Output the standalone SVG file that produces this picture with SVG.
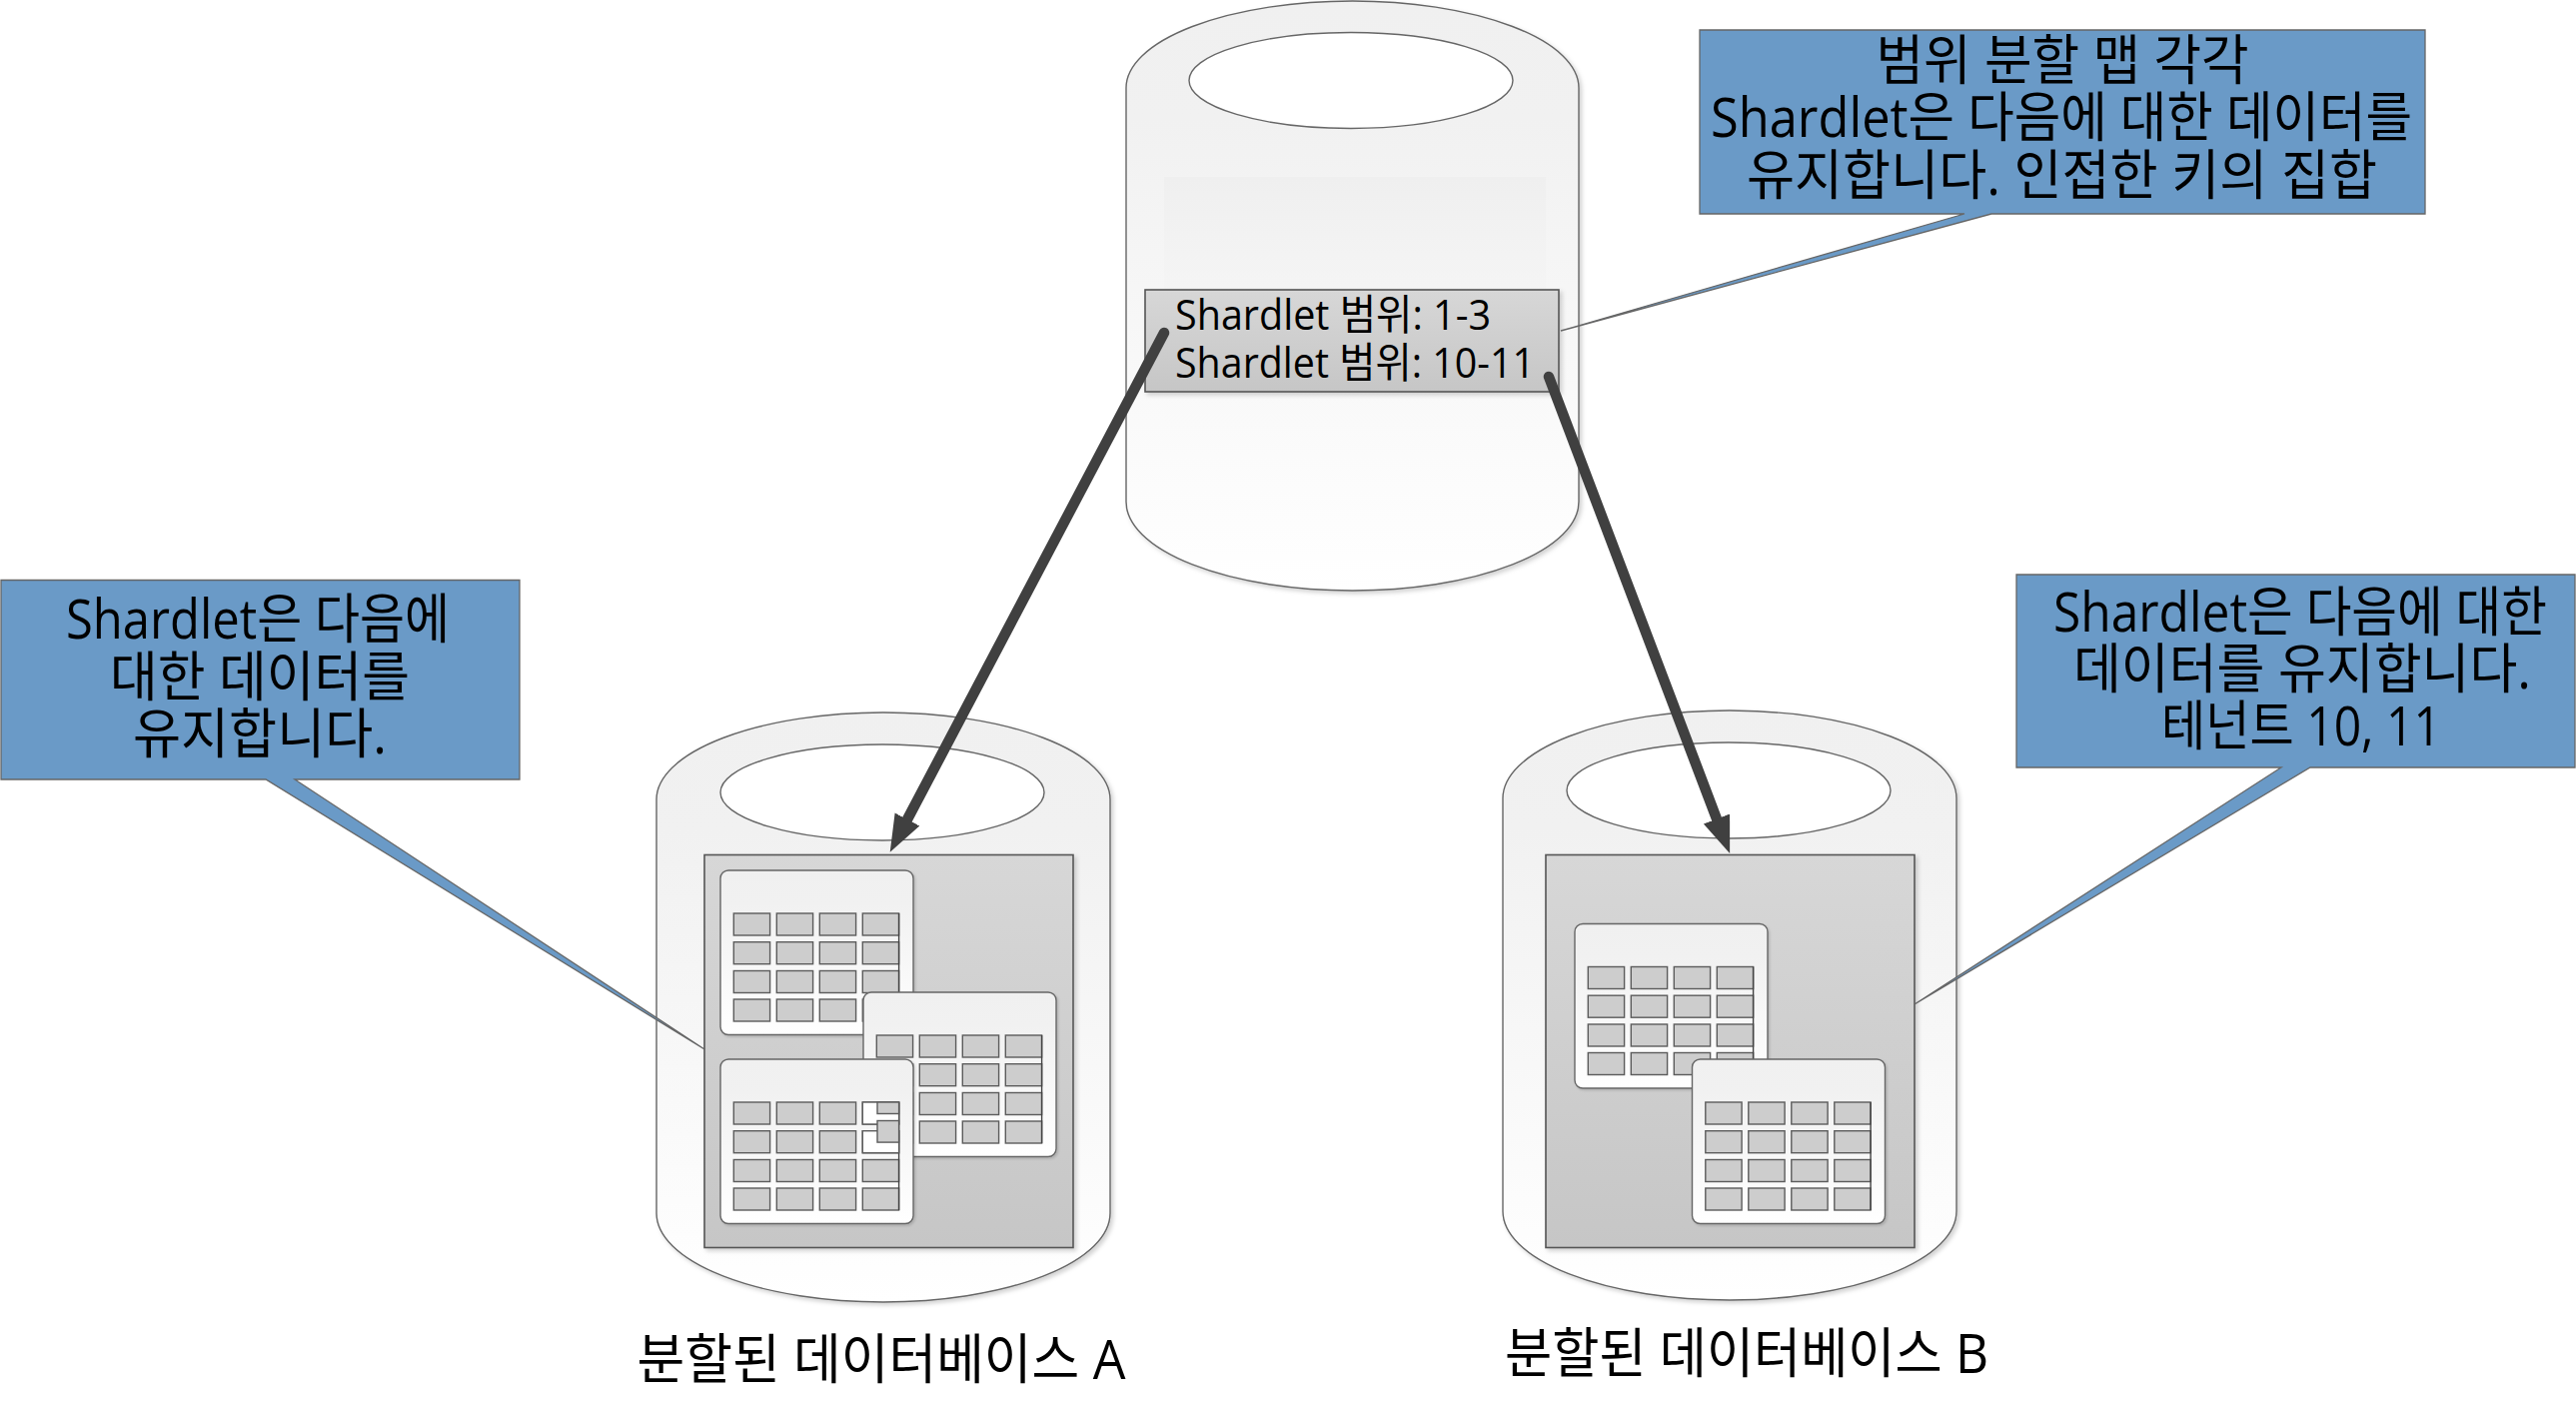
<svg xmlns="http://www.w3.org/2000/svg" xmlns:xlink="http://www.w3.org/1999/xlink" width="2578" height="1412" viewBox="0 0 2578 1412">
<style>
.cyl{fill:url(#gCyl);stroke:#666;stroke-width:1.4;filter:url(#sh)}
.hole{fill:#fff;stroke:#666;stroke-width:1.4}
.panel{fill:url(#gPanel);stroke:#555;stroke-width:1.6;filter:url(#sh)}
.tbl{fill:url(#gCyl);stroke:#666;stroke-width:1.4;filter:url(#sh2)}
.cell{fill:#cdcdcd;stroke:#5c5c5c;stroke-width:1.4}
.call{fill:#6a9ac7;stroke:#666;stroke-width:1.3}
.t{font-family:"Open Sans","Noto Sans CJK KR",sans-serif;fill:#000;font-size:54px;text-anchor:middle}
.r{font-size:42px;text-anchor:start}
.arrow{fill:none;stroke:#404040;stroke-width:10.5;stroke-linecap:round;marker-end:url(#head)}
</style>
<defs>
<linearGradient id="gCyl" x1="0" y1="0" x2="0" y2="1"><stop offset="0" stop-color="#f0f0f0"/><stop offset=".2" stop-color="#f1f1f1"/><stop offset="1" stop-color="#fff"/></linearGradient>
<linearGradient id="gPanel" x1="0" y1="0" x2="0" y2="1"><stop offset="0" stop-color="#d7d7d7"/><stop offset="1" stop-color="#c6c6c6"/></linearGradient>
<linearGradient id="gFaint" x1="0" y1="0" x2="0" y2="1"><stop offset="0" stop-color="#efefef"/><stop offset="1" stop-color="#fdfdfd" stop-opacity="0"/></linearGradient>
<filter id="sh" x="-5%" y="-5%" width="112%" height="112%"><feDropShadow dx="2.5" dy="2.5" stdDeviation="2" flood-color="#000" flood-opacity=".18"/></filter>
<filter id="sh2" x="-5%" y="-5%" width="112%" height="112%"><feDropShadow dx="1.5" dy="1.5" stdDeviation="1.2" flood-color="#000" flood-opacity=".15"/></filter>
<marker id="head" markerUnits="userSpaceOnUse" markerWidth="40" markerHeight="30" refX="0" refY="14" orient="auto"><path d="M0,0 L37,14 L0,28 Z" fill="#404040"/></marker>
<g id="table">
<rect class="tbl" width="193" height="164.5" rx="8"/>
<rect class="cell" x="13.3" y="43" width="36.3" height="22"/><rect class="cell" x="56.3" y="43" width="36.3" height="22"/><rect class="cell" x="99.3" y="43" width="36.3" height="22"/><rect class="cell" x="142.3" y="43" width="36.3" height="22"/>
<rect class="cell" x="13.3" y="71.7" width="36.3" height="22"/><rect class="cell" x="56.3" y="71.7" width="36.3" height="22"/><rect class="cell" x="99.3" y="71.7" width="36.3" height="22"/><rect class="cell" x="142.3" y="71.7" width="36.3" height="22"/>
<rect class="cell" x="13.3" y="100.5" width="36.3" height="22"/><rect class="cell" x="56.3" y="100.5" width="36.3" height="22"/><rect class="cell" x="99.3" y="100.5" width="36.3" height="22"/><rect class="cell" x="142.3" y="100.5" width="36.3" height="22"/>
<rect class="cell" x="13.3" y="129" width="36.3" height="22"/><rect class="cell" x="56.3" y="129" width="36.3" height="22"/><rect class="cell" x="99.3" y="129" width="36.3" height="22"/><rect class="cell" x="142.3" y="129" width="36.3" height="22"/>
<path d="M178.6,43V151" stroke="#444" stroke-width="1.4" fill="none"/>
</g>
</defs>
<rect width="2578" height="1412" fill="#fff"/>

<g id="map-db">
<path class="cyl" d="M1127,88 A226.5,87 0 0 1 1580,88 L1580,502 A226.5,89 0 0 1 1127,502 Z"/>
<ellipse class="hole" cx="1352" cy="80.5" rx="162" ry="48"/>
<rect x="1165" y="177" width="382" height="323" fill="url(#gFaint)"/>
</g>
<g id="range-box">
<rect class="panel" x="1146" y="290" width="414" height="102"/>
<text class="t r" x="1176" y="330" textLength="316" lengthAdjust="spacingAndGlyphs">Shardlet 범위: 1-3</text>
<text class="t r" x="1176" y="378" textLength="360" lengthAdjust="spacingAndGlyphs">Shardlet 범위: 10-11</text>
</g>

<g id="db-a">
<path class="cyl" d="M657,800 A227,87 0 0 1 1111,800 L1111,1214 A227,89 0 0 1 657,1214 Z"/>
<ellipse class="hole" cx="883" cy="793" rx="162" ry="48"/>
<rect class="panel" x="705" y="855.5" width="369" height="393"/>
<use href="#table" x="721" y="871"/>
<use href="#table" x="864" y="993"/>
<use href="#table" x="721" y="1060"/>
<rect x="863.3" y="1103" width="36.3" height="22" fill="#fff" stroke="#5c5c5c" stroke-width="1.4"/>
<rect x="863.3" y="1131.7" width="36.3" height="22" fill="#fff" stroke="#5c5c5c" stroke-width="1.4"/>
<rect x="878" y="1103" width="21.6" height="11.5" fill="#cdcdcd" stroke="#5c5c5c" stroke-width="1.4"/>
<rect x="878" y="1121.5" width="21.6" height="21.6" fill="#cdcdcd" stroke="#5c5c5c" stroke-width="1.4"/>
</g>

<g id="db-b">
<path class="cyl" d="M1504,799 A227,88 0 0 1 1958,799 L1958,1212 A227,89 0 0 1 1504,1212 Z"/>
<ellipse class="hole" cx="1730" cy="791" rx="162" ry="48"/>
<rect class="panel" x="1547" y="855.5" width="369" height="393"/>
<use href="#table" x="1576" y="924.5"/>
<use href="#table" x="1693.5" y="1060"/>
</g>

<g id="callout-map">
<path class="call" d="M1701,30 H2427 V214 H1993 L1562,331 L1966,214 H1701 Z"/>
<text class="t" x="2064" y="80" textLength="373" lengthAdjust="spacingAndGlyphs">범위 분할 맵 각각</text>
<text class="t" x="2063" y="137" textLength="702" lengthAdjust="spacingAndGlyphs">Shardlet은 다음에 대한 데이터를</text>
<text class="t" x="2063.5" y="195" textLength="631" lengthAdjust="spacingAndGlyphs">유지합니다. 인접한 키의 집합</text>
</g>
<g id="callout-a">
<path class="call" d="M1,580.5 H520 V780 H295 L705,1050 L266,780 H1 Z"/>
<text class="t" x="258" y="639" textLength="384" lengthAdjust="spacingAndGlyphs">Shardlet은 다음에</text>
<text class="t" x="260" y="697" textLength="300" lengthAdjust="spacingAndGlyphs">대한 데이터를</text>
<text class="t" x="260" y="754" textLength="254" lengthAdjust="spacingAndGlyphs">유지합니다.</text>
</g>
<g id="callout-b">
<path class="call" d="M2018,575 H2577 V768 H2312 L1916,1005 L2283,768 H2018 Z"/>
<text class="t" x="2302" y="632" textLength="494" lengthAdjust="spacingAndGlyphs">Shardlet은 다음에 대한</text>
<text class="t" x="2304" y="689" textLength="458" lengthAdjust="spacingAndGlyphs">데이터를 유지합니다.</text>
<text class="t" x="2303" y="746" textLength="280" lengthAdjust="spacingAndGlyphs">테넌트 10, 11</text>
</g>

<g id="connectors">
<path class="arrow" d="M1165,333 L908,820"/>
<path class="arrow" d="M1550,377 L1718,819.5"/>
</g>

<g id="label-a"><text class="t" x="882" y="1380" textLength="489" lengthAdjust="spacingAndGlyphs">분할된 데이터베이스 A</text></g>
<g id="label-b"><text class="t" x="1748" y="1374" textLength="484" lengthAdjust="spacingAndGlyphs">분할된 데이터베이스 B</text></g>
</svg>
